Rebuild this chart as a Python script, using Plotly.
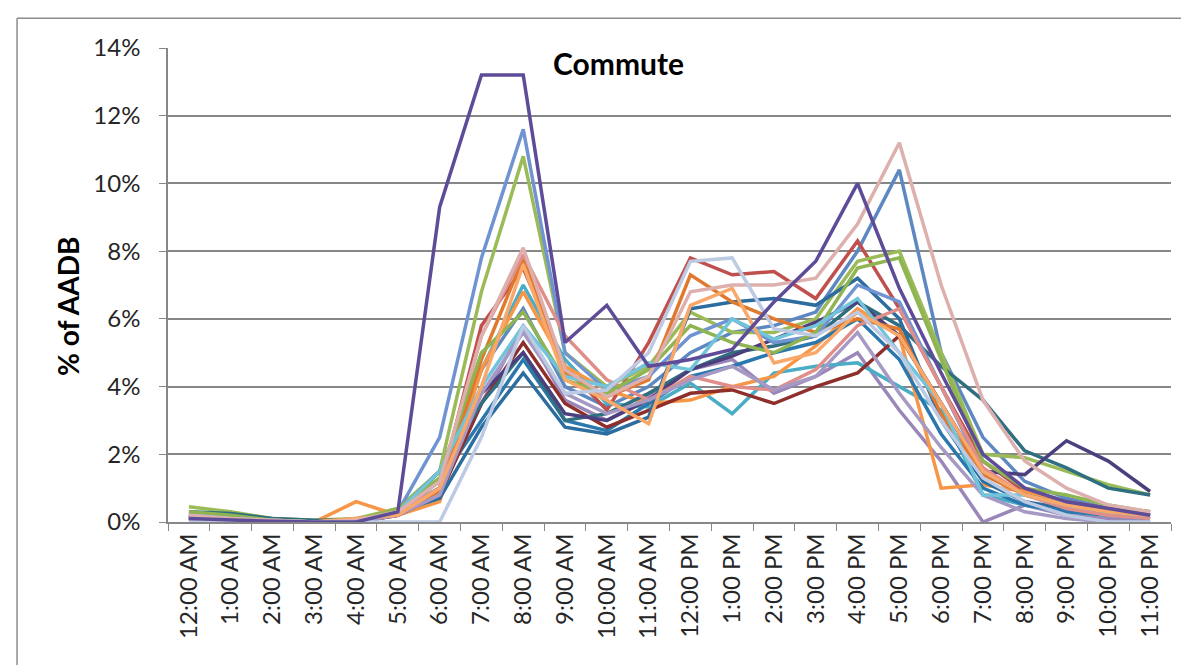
import plotly.graph_objects as go

hours = ["12:00 AM", "1:00 AM", "2:00 AM", "3:00 AM", "4:00 AM", "5:00 AM",
         "6:00 AM", "7:00 AM", "8:00 AM", "9:00 AM", "10:00 AM", "11:00 AM",
         "12:00 PM", "1:00 PM", "2:00 PM", "3:00 PM", "4:00 PM", "5:00 PM",
         "6:00 PM", "7:00 PM", "8:00 PM", "9:00 PM", "10:00 PM", "11:00 PM"]

# % of AADB per hour, one list per count site
site_01 = [0.2, 0.1, 0.05, 0.0, 0.0, 0.3, 1.5, 4.5, 6.3, 4.0, 3.4, 4.0, 5.0, 5.6, 5.8, 6.2, 8.0, 10.4, 5.0, 2.5, 1.2, 0.7, 0.4, 0.3]
site_02 = [0.2, 0.1, 0.05, 0.0, 0.0, 0.2, 1.0, 5.8, 7.5, 4.6, 3.3, 5.3, 7.8, 7.3, 7.4, 6.6, 8.3, 6.3, 4.0, 1.8, 0.9, 0.6, 0.4, 0.3]
site_03 = [0.45, 0.3, 0.1, 0.05, 0.1, 0.4, 1.5, 6.8, 10.8, 5.0, 4.0, 4.6, 6.2, 5.6, 5.6, 6.0, 7.7, 8.0, 5.0, 2.0, 1.9, 1.5, 1.1, 0.8]
site_04 = [0.1, 0.05, 0.0, 0.0, 0.0, 0.2, 0.8, 3.5, 5.8, 3.6, 3.0, 3.7, 4.5, 4.8, 3.8, 4.3, 5.0, 3.3, 1.8, 0.0, 0.5, 0.2, 0.1, 0.0]
site_05 = [0.2, 0.1, 0.05, 0.0, 0.0, 0.3, 1.0, 4.5, 7.0, 4.8, 3.5, 3.4, 4.1, 3.2, 4.4, 4.6, 4.7, 4.0, 3.3, 0.8, 0.5, 0.3, 0.2, 0.1]
site_06 = [0.2, 0.1, 0.0, 0.0, 0.6, 0.2, 0.6, 4.5, 6.8, 4.6, 3.9, 3.5, 3.6, 4.0, 4.3, 5.2, 6.3, 5.5, 1.0, 1.1, 0.9, 0.5, 0.3, 0.2]
site_07 = [0.15, 0.1, 0.0, 0.0, 0.0, 0.3, 1.2, 3.0, 4.8, 3.0, 2.7, 3.5, 4.3, 4.6, 5.0, 5.3, 6.0, 4.8, 2.6, 1.0, 0.5, 0.3, 0.2, 0.1]
site_08 = [0.1, 0.05, 0.0, 0.0, 0.0, 0.2, 0.8, 3.5, 5.3, 3.5, 2.8, 3.3, 3.8, 3.9, 3.5, 4.0, 4.4, 5.5, 3.5, 1.5, 0.8, 0.5, 0.3, 0.2]
site_09 = [0.3, 0.25, 0.1, 0.05, 0.05, 0.3, 1.5, 3.5, 5.0, 3.0, 3.2, 3.8, 4.5, 5.0, 5.2, 5.5, 6.5, 5.8, 4.6, 3.6, 2.1, 1.6, 1.0, 0.8]
site_10 = [0.1, 0.05, 0.0, 0.0, 0.0, 0.3, 1.0, 3.8, 5.0, 3.2, 3.0, 3.6, 4.5, 4.9, 5.4, 5.9, 6.5, 5.5, 3.5, 1.5, 1.4, 2.4, 1.8, 0.9]
site_11 = [0.1, 0.05, 0.0, 0.0, 0.0, 0.3, 0.7, 2.8, 4.4, 2.8, 2.6, 3.1, 6.3, 6.5, 6.6, 6.4, 7.2, 6.0, 3.0, 1.2, 0.6, 0.4, 0.3, 0.2]
site_12 = [0.1, 0.05, 0.0, 0.0, 0.1, 0.2, 0.9, 4.8, 7.8, 4.4, 3.7, 4.2, 7.3, 6.5, 6.0, 5.6, 6.0, 5.7, 3.2, 1.4, 0.8, 0.5, 0.3, 0.2]
site_13 = [0.2, 0.1, 0.05, 0.0, 0.0, 0.3, 2.5, 7.8, 11.6, 5.0, 3.9, 4.3, 5.5, 6.0, 5.3, 5.5, 7.0, 6.5, 4.0, 1.5, 0.8, 0.5, 0.3, 0.2]
site_14 = [0.2, 0.1, 0.05, 0.0, 0.0, 0.3, 1.0, 5.5, 7.9, 5.5, 4.2, 3.6, 4.3, 4.0, 3.9, 4.5, 5.8, 6.3, 4.0, 1.6, 0.8, 0.4, 0.2, 0.1]
site_15 = [0.3, 0.2, 0.05, 0.0, 0.05, 0.4, 1.3, 5.0, 6.2, 4.2, 3.8, 4.5, 5.8, 5.3, 5.0, 5.6, 7.5, 7.8, 4.8, 1.8, 1.0, 0.8, 0.5, 0.3]
site_16 = [0.1, 0.05, 0.0, 0.0, 0.0, 0.2, 0.8, 3.8, 5.6, 3.8, 3.2, 3.6, 4.2, 4.6, 3.9, 4.3, 5.6, 3.8, 2.2, 0.8, 0.3, 0.1, 0.0, 0.0]
site_17 = [0.2, 0.1, 0.05, 0.0, 0.0, 0.3, 1.5, 4.0, 5.8, 4.3, 4.0, 4.7, 4.5, 6.0, 5.4, 5.8, 6.6, 5.0, 3.5, 0.8, 0.8, 0.5, 0.3, 0.2]
site_18 = [0.1, 0.05, 0.0, 0.0, 0.1, 0.2, 1.0, 4.0, 7.6, 4.2, 3.6, 2.9, 6.4, 6.9, 4.7, 5.0, 6.2, 5.5, 3.5, 1.5, 0.8, 0.5, 0.3, 0.2]
site_19 = [0.2, 0.1, 0.05, 0.0, 0.05, 0.3, 1.2, 5.5, 8.1, 4.5, 3.7, 4.3, 6.8, 7.0, 7.0, 7.2, 8.8, 11.2, 7.0, 3.6, 1.8, 1.0, 0.5, 0.3]
site_20 = [0.0, 0.0, 0.0, 0.0, 0.0, 0.0, 0.0, 2.5, 5.8, 3.8, 3.9, 5.0, 7.7, 7.8, 5.7, 5.5, 6.2, 5.0, 3.0, 1.3, 0.6, 0.2, 0.0, 0.0]
site_21 = [0.1, 0.05, 0.02, 0.0, 0.0, 0.3, 9.3, 13.2, 13.2, 5.3, 6.4, 4.6, 4.8, 5.1, 6.5, 7.7, 10.0, 6.9, 4.4, 2.0, 1.0, 0.6, 0.4, 0.2]

y_ticks = [0, 2, 4, 6, 8, 10, 12, 14]
y_tick_labels = ["0%", "2%", "4%", "6%", "8%", "10%", "12%", "14%"]

sites = [site_01, site_02, site_03, site_04, site_05, site_06, site_07,
         site_08, site_09, site_10, site_11, site_12, site_13, site_14,
         site_15, site_16, site_17, site_18, site_19, site_20, site_21]

colors = ["#5E88C2", "#C0504D", "#9BBB59", "#9A86B8", "#4BACC6", "#F79646",
          "#2A78AE", "#8E2F2C", "#2F6F80", "#4B3F7E", "#2C6C9E", "#E0782E",
          "#7093D2", "#E08E8A", "#8FB552", "#A699C4", "#72C4DA", "#F9A869",
          "#DDB0AE", "#BCCAE4", "#5E4C99"]

fig = go.Figure()
for i, (vals, col) in enumerate(zip(sites, colors)):
    fig.add_trace(go.Scatter(x=hours, y=vals, mode="lines",
                             line=dict(color=col, width=3.5),
                             name=f"Site {i + 1}", showlegend=False))

FONT = "Lato, 'Open Sans', sans-serif"
GRID = "#878787"

fig.update_layout(
    width=1189, height=665,
    margin=dict(l=160, r=26, t=40, b=151),
    paper_bgcolor="white", plot_bgcolor="white",
    font=dict(family=FONT, color="#262626"),
    showlegend=False,
)

fig.update_xaxes(
    type="category", categoryorder="array", categoryarray=hours,
    tickangle=-90, tickfont=dict(size=24, family=FONT, color="#262626"),
    showline=True, linecolor=GRID, linewidth=1.5,
    ticks="outside", tickson="boundaries", ticklen=7, tickcolor=GRID, tickwidth=1.3,
    showgrid=False, zeroline=False, range=[-0.5, 23.5],
)

fig.update_yaxes(
    range=[0, 14], tickvals=y_ticks, ticktext=y_tick_labels,
    tickfont=dict(size=24, family=FONT, color="#262626"),
    showline=True, linecolor=GRID, linewidth=1.5,
    ticks="outside", ticklen=7, tickcolor=GRID, tickwidth=1.3,
    showgrid=True, gridcolor=GRID, gridwidth=1.5, zeroline=False,
    ticklabelstandoff=14,
)

# Chart title and y axis title
fig.add_annotation(text="<b>Commute</b>", xref="paper", yref="paper",
                   x=0.4487, y=0.968, xanchor="center", yanchor="middle",
                   showarrow=False,
                   font=dict(size=30, family=FONT, color="black"))
fig.add_annotation(text="<b>% of AADB</b>", xref="paper", yref="paper",
                   x=-0.0997, y=0.4536, xanchor="center", yanchor="middle",
                   textangle=-90, showarrow=False,
                   font=dict(size=28, family=FONT, color="black"))

# outer chart-area border (left and top edges visible)
fig.add_shape(type="line", xref="paper", yref="paper",
              x0=-0.1505, x1=-0.1505, y0=-0.33, y1=1.063,
              line=dict(color="#8C8C8C", width=1.5), layer="below")
fig.add_shape(type="line", xref="paper", yref="paper",
              x0=-0.1505, x1=1.020, y0=1.063, y1=1.063,
              line=dict(color="#8C8C8C", width=1.5), layer="below")

fig.write_html("out.html")
